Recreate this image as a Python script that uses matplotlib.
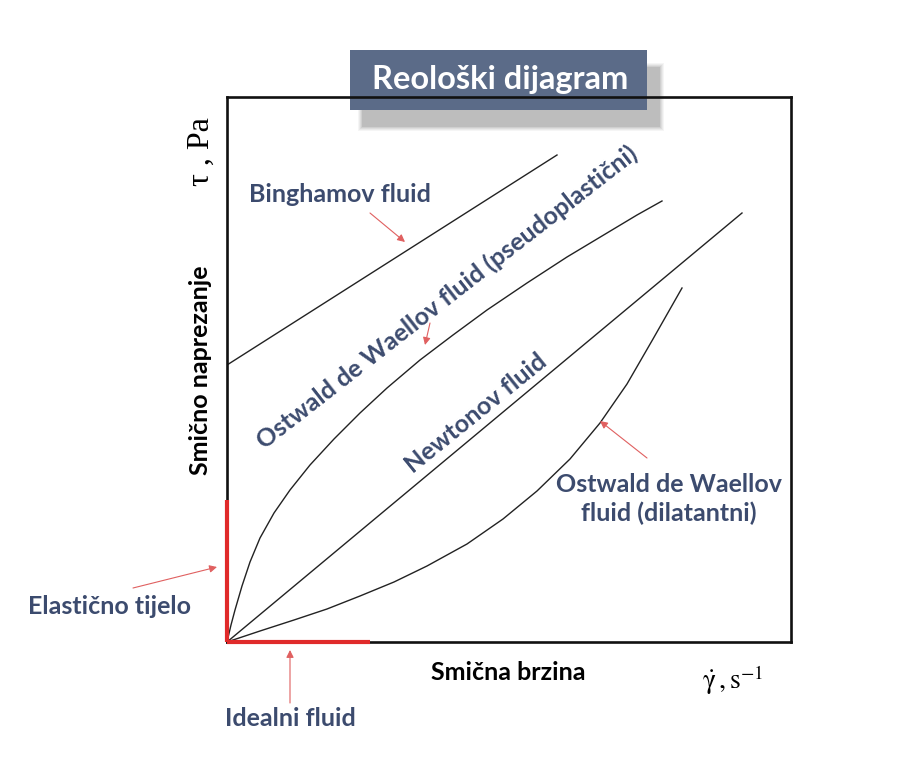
import matplotlib.pyplot as plt
from matplotlib.patches import Rectangle

# curve points (x = shear rate, y = shear stress, arbitrary units)
bingham_x = [0, 330]
bingham_y = [277, 487]

pseudo_x = [0, 4, 8, 15, 23, 33, 47, 63, 83, 107, 133, 160, 193, 226, 260, 300, 340, 380, 410, 435]
pseudo_y = [0, 17, 32, 56, 80, 104, 129, 152, 177, 203, 229, 254, 282, 307, 332, 359, 385, 409, 427, 441]

newton_x = [0, 515]
newton_y = [0, 429]

dilat_x = [0, 33, 67, 100, 133, 167, 200, 240, 276, 310, 343, 373, 400, 426, 455]
dilat_y = [0, 11, 22, 33, 46, 60, 76, 98, 123, 151, 183, 219, 258, 303, 354]

elastic_x = [0, 0]
elastic_y = [0, 142]
ideal_x = [0, 143]
ideal_y = [0, 0]

title = "Reološki dijagram"
W, H = 915, 761
label_color = '#3C4B6E'
red = '#E02A2A'


def fp(x, y):
    # image pixel -> figure fraction
    return x / W, 1 - y / H


plt.rcParams['mathtext.fontset'] = 'stix'
fig = plt.figure(figsize=(W / 100, H / 100), dpi=100)
fig.patch.set_facecolor('white')

# title box with soft shadow, drawn below the axes frame
for i, a in enumerate([0.08, 0.10, 0.13, 0.17, 0.25]):
    g = 4 - i
    x0, y0 = fp(362 - g, 127 + g)
    x1, y1 = fp(660 + g, 67 - g)
    fig.add_artist(Rectangle((x0, y0), x1 - x0, y1 - y0, transform=fig.transFigure,
                             facecolor='#8A8A8A', edgecolor='none', alpha=a, zorder=-3))
x0, y0 = fp(350, 110)
x1, y1 = fp(647, 50)
fig.add_artist(Rectangle((x0, y0), x1 - x0, y1 - y0, transform=fig.transFigure,
                         facecolor='#5B6B88', edgecolor='none', zorder=-2))
fig.text(*fp(500, 79), title, color='white', fontsize=23.5, fontweight='bold',
         family='Lato', ha='center', va='center', zorder=-1)

ax = fig.add_axes([227 / W, 1 - 642 / H, 564 / W, 545 / H])
ax.set_facecolor('none')
ax.set_xlim(0, 564)
ax.set_ylim(0, 545)
ax.set_xticks([])
ax.set_yticks([])
for s in ax.spines.values():
    s.set_linewidth(1.9)
    s.set_color('#111111')

for xs, ys in [(bingham_x, bingham_y), (pseudo_x, pseudo_y),
               (newton_x, newton_y), (dilat_x, dilat_y)]:
    ax.plot(xs, ys, color='#222222', lw=1.0, solid_joinstyle='round')

ax.plot(elastic_x, elastic_y, color=red, lw=3, clip_on=False, zorder=5, solid_capstyle='butt')
ax.plot(ideal_x, ideal_y, color=red, lw=3, clip_on=False, zorder=5, solid_capstyle='butt')

lab = dict(color=label_color, fontsize=18, fontweight='bold', family='Lato')

fig.text(*fp(340, 195), "Binghamov fluid", ha='center', va='center', **lab)
fig.text(*fp(447, 297), "Ostwald de Waellov fluid (pseudoplastični)", ha='center', va='center',
         rotation=38, rotation_mode='anchor', **lab)
fig.text(*fp(476, 413), "Newtonov fluid", ha='center', va='center',
         rotation=39, rotation_mode='anchor', **lab)
fig.text(*fp(669, 499), "Ostwald de Waellov\nfluid (dilatantni)", ha='center', va='center',
         linespacing=1.25, **lab)
fig.text(*fp(109, 606), "Elastično tijelo", ha='center', va='center', **lab)
fig.text(*fp(290, 719), "Idealni fluid", ha='center', va='center', **lab)

fig.text(*fp(508, 673), "Smična brzina", ha='center', va='center', color='black',
         fontsize=18, fontweight='bold', family='Lato')
fig.text(*fp(200, 370), "Smično naprezanje", ha='center', va='center', rotation=90,
         color='black', fontsize=18, fontweight='bold', family='Lato')

fig.text(*fp(201, 152), "τ , Pa", ha='center', va='center', rotation=90,
         color='black', fontsize=23, family='Liberation Serif')
fig.text(*fp(733, 680), r'$\dot{\mathrm{\gamma}}\,,\mathrm{s}^{-1}$', ha='center', va='center',
         color='black', fontsize=20)

# red pointer arrows (tail -> head, image pixels)
arrows = [((370, 213), (405, 242)),
          ((430, 323), (425, 345)),
          ((647, 458), (600, 421)),
          ((133, 588), (217, 567)),
          ((290, 703), (290, 650))]
for tail, head in arrows:
    hx, hy = head
    tx, ty = tail
    fig.add_artist(plt.Annotation('', xy=(hx, H - hy), xytext=(tx, H - ty),
                                  xycoords='figure pixels', textcoords='figure pixels',
                                  arrowprops=dict(arrowstyle='-|>', color='#E06060', lw=0.8,
                                                  mutation_scale=11, shrinkA=0, shrinkB=0)))

fig.savefig('out.png', dpi=100)
